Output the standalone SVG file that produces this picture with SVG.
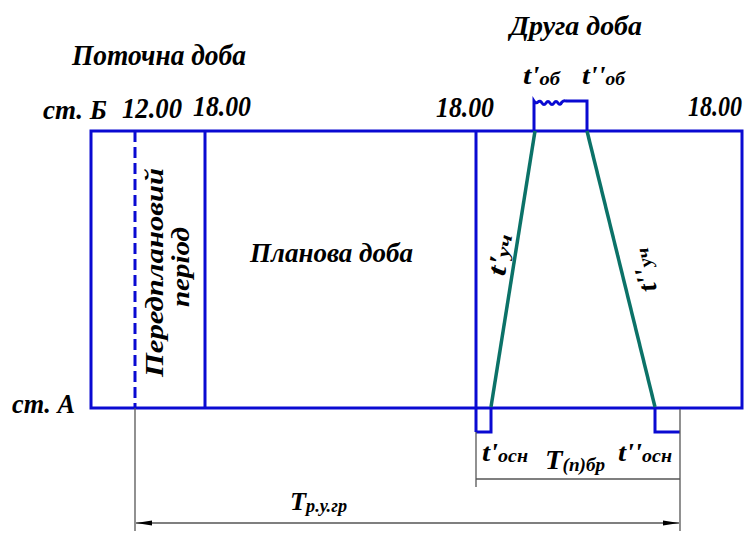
<svg xmlns="http://www.w3.org/2000/svg" width="754" height="534" viewBox="0 0 754 534">
<defs>
<style>
.b{fill:none;stroke:#0a0ad2;stroke-width:3}
.tl{fill:none;stroke:#0b7268;stroke-width:3.5}
.g{fill:none;stroke:#555;stroke-width:1.3}
.t{font-family:"Liberation Serif","Times New Roman",serif;font-weight:bold;font-style:italic;fill:#000}
</style>
<marker id="ah" viewBox="0 0 16 6" refX="16" refY="3" markerWidth="16" markerHeight="6" markerUnits="userSpaceOnUse" orient="auto-start-reverse">
<path d="M0,0.5 L16,3 L0,5.5 Z" fill="#000"/>
</marker>
</defs>
<rect width="754" height="534" fill="#fff"/>

<g id="frame">
<rect class="b" x="91" y="131" width="651" height="277"/>
<line class="b" x1="135" y1="131" x2="135" y2="408" stroke-dasharray="11 5"/>
<line class="b" x1="205" y1="131" x2="205" y2="408"/>
<line class="b" x1="476" y1="131" x2="476" y2="432"/>
<path class="b" d="M476,432 H491 V408"/>
<path class="b" d="M655,408 V432 H680"/>
<path class="b" d="M534,131 V101 q2,3 4,1 t4,1 t4,0 t4,0 t4,0 t4,0 t4,-1 q2,-2 4,-1 H587 V131"/>
</g>

<g id="trains">
<line class="tl" x1="535" y1="131" x2="491" y2="407"/>
<line class="tl" x1="587" y1="131" x2="655" y2="407"/>
</g>

<g id="connectors">
<line class="g" x1="135" y1="408" x2="135" y2="531"/>
<line class="g" x1="476" y1="432" x2="476" y2="487"/>
<line class="g" x1="680" y1="409" x2="680" y2="531"/>
<line class="g" x1="476" y1="479" x2="680" y2="479"/>
<line class="g" x1="136" y1="523" x2="679" y2="523" marker-start="url(#ah)" marker-end="url(#ah)"/>
</g>

<g id="labels">
<text class="t" x="72" y="65" font-size="29" textLength="174" lengthAdjust="spacingAndGlyphs">Поточна доба</text>
<text class="t" x="510" y="35" font-size="27" textLength="132" lengthAdjust="spacingAndGlyphs">Друга доба</text>
<text class="t" x="43" y="119" font-size="28" textLength="64" lengthAdjust="spacingAndGlyphs">ст. Б</text>
<text class="t" x="122" y="118" font-size="30" textLength="60" lengthAdjust="spacingAndGlyphs">12.00</text>
<text class="t" x="193" y="116" font-size="30" textLength="58" lengthAdjust="spacingAndGlyphs">18.00</text>
<text class="t" x="436" y="117" font-size="30" textLength="58" lengthAdjust="spacingAndGlyphs">18.00</text>
<text class="t" x="688" y="116" font-size="29" textLength="54" lengthAdjust="spacingAndGlyphs">18.00</text>
<text class="t" x="12" y="413" font-size="28" textLength="63" lengthAdjust="spacingAndGlyphs">ст. А</text>
<text class="t" x="250" y="262" font-size="27" textLength="163" lengthAdjust="spacingAndGlyphs">Планова доба</text>
<text class="t" x="523" y="84" font-size="26" textLength="37" lengthAdjust="spacingAndGlyphs">t'<tspan font-size="18" dy="1">об</tspan></text>
<text class="t" x="582" y="84" font-size="26" textLength="43" lengthAdjust="spacingAndGlyphs">t''<tspan font-size="18" dy="1">об</tspan></text>
<text class="t" x="482" y="461" font-size="26" textLength="46" lengthAdjust="spacingAndGlyphs">t'<tspan font-size="18" dy="1">осн</tspan></text>
<text class="t" x="618" y="461" font-size="26" textLength="54" lengthAdjust="spacingAndGlyphs">t''<tspan font-size="18" dy="1">осн</tspan></text>
<text class="t" x="545" y="469" font-size="27" textLength="60" lengthAdjust="spacingAndGlyphs">T<tspan font-size="18" dy="2">(п)бр</tspan></text>
<text class="t" x="290" y="510" font-size="26" textLength="57" lengthAdjust="spacingAndGlyphs">T<tspan font-size="18" dy="2">р.у.гр</tspan></text>
<text class="t" transform="translate(163,272.5) rotate(-90)" x="0" y="0" font-size="25" text-anchor="middle" textLength="209" lengthAdjust="spacingAndGlyphs">Передплановий</text>
<text class="t" transform="translate(189,267) rotate(-90)" x="0" y="0" font-size="25" text-anchor="middle" textLength="80" lengthAdjust="spacingAndGlyphs">період</text>
<text class="t" transform="translate(501,255) rotate(-81)" x="0" y="7" font-size="26" text-anchor="middle" textLength="42" lengthAdjust="spacingAndGlyphs">t'<tspan font-size="18" dy="1">уч</tspan></text>
<text class="t" transform="translate(645,270) rotate(-104)" x="0" y="7" font-size="26" text-anchor="middle" textLength="44" lengthAdjust="spacingAndGlyphs">t''<tspan font-size="18" dy="1">уч</tspan></text>
</g>
</svg>
